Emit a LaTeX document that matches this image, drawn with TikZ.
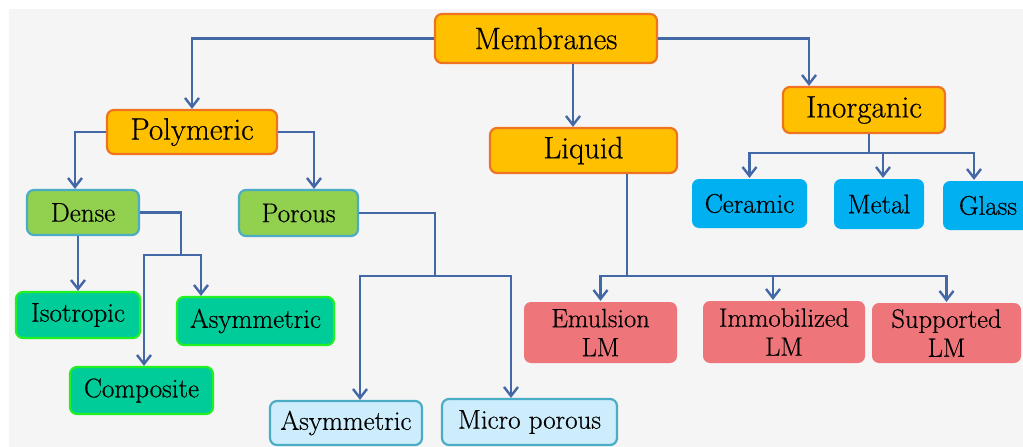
\documentclass[tikz,border=0pt]{standalone}
\usepackage{fontspec}
\usetikzlibrary{arrows.meta,calc}
\newfontfamily\lblfont{Latin Modern Roman}[FakeBold=0.5]
\definecolor{bgcol}{HTML}{F5F5F5}
\definecolor{linkcol}{HTML}{4467A6}
\definecolor{orfill}{HTML}{FFC000}
\definecolor{ordraw}{HTML}{EE7422}
\definecolor{grfill}{HTML}{92D050}
\definecolor{bldraw}{HTML}{4BACC6}
\definecolor{tlfill}{HTML}{00CC99}
\definecolor{tldraw}{HTML}{22F022}
\definecolor{skyfill}{HTML}{00B0F0}
\definecolor{pkfill}{HTML}{EE757A}
\definecolor{ltfill}{HTML}{CDEDFC}
\tikzset{
  x=1pt, y=-1pt,
  box/.style={rounded corners=7pt, align=center, inner sep=0pt, line width=2.2pt},
  top/.style={box, fill=orfill, draw=ordraw, font=\lblfont\fontsize{31}{35}\selectfont},
  mid/.style={box, fill=grfill, draw=bldraw, font=\lblfont\fontsize{27}{31}\selectfont},
  leaf/.style={box, fill=tlfill, draw=tldraw, font=\lblfont\fontsize{27}{31}\selectfont},
  inorg/.style={box, fill=skyfill, font=\lblfont\fontsize{27}{31}\selectfont},
  lm/.style={box, fill=pkfill, font=\lblfont\fontsize{26.5}{29}\selectfont},
  pore/.style={box, fill=ltfill, draw=bldraw, font=\lblfont\fontsize{27}{31}\selectfont},
  link/.style={draw=linkcol, line width=2.6pt},
  arr/.style={link, -{Straight Barb[length=9pt,width=14pt,line width=2.4pt]}},
}
\begin{document}
\begin{tikzpicture}
% canvas
\useasboundingbox (0,0) rectangle (1023,447);
\fill[white] (0,0) rectangle (1023,447);
\fill[bgcol] (9,9) rectangle (1023,447);

% level 0 and 1
\node[top, minimum width=222, minimum height=49] (mem) at (546,38.5) {Membranes};
\node[top, minimum width=170, minimum height=44] (poly) at (192,132) {Polymeric};
\node[top, minimum width=187, minimum height=45] (liq) at (583.5,150.5) {Liquid};
\node[top, minimum width=162, minimum height=46] (ino) at (864,110) {Inorganic};

% polymeric branch
\node[mid, minimum width=112, minimum height=45] (dense) at (83,212.5) {Dense};
\node[mid, minimum width=119, minimum height=46] (por) at (298.5,213) {Porous};
\node[leaf, minimum width=124, minimum height=46] (iso) at (78,315) {Isotropic};
\node[leaf, minimum width=157, minimum height=48] (asd) at (255.5,321) {Asymmetric};
\node[leaf, minimum width=143, minimum height=47] (comp) at (141.5,390.5) {Composite};
\node[pore, minimum width=152, minimum height=44] (asp) at (346,423) {Asymmetric};
\node[pore, minimum width=175, minimum height=46] (mic) at (529.5,422) {Micro porous};

% inorganic branch
\node[inorg, minimum width=115, minimum height=49] (cer) at (749.5,203.5) {Ceramic};
\node[inorg, minimum width=90, minimum height=50] (met) at (879,204) {Metal};
\node[inorg, minimum width=90, minimum height=49] (gla) at (988,205.5) {Glass};

% liquid branch
\node[lm, minimum width=153, minimum height=61] (emu) at (600.5,332.5) {Emulsion\\LM};
\node[lm, minimum width=162, minimum height=62] (imm) at (784,332) {Immobilized\\LM};
\node[lm, minimum width=149, minimum height=60] (sup) at (946.5,333) {Supported\\LM};

% junction points
\coordinate (dj) at (181,255);
\coordinate (pj) at (435,276);
\coordinate (lj) at (627,276);
\coordinate (ij) at (869,153);

% connectors
\draw[arr] (mem.west) -| (poly.north);
\draw[arr] (mem.east) -| ([xshift=-55]ino.north);
\draw[arr] ([xshift=-10.5]liq.north |- mem.south) -- ([xshift=-10.5]liq.north);

\draw[arr] (poly.west) -| ([xshift=-8]dense.north);
\draw[arr] (poly.east) -| ([xshift=15.5]por.north);

\draw[arr] (iso.north |- dense.south) -- (iso.north);
\draw[link] (dense.east) -| (dj);
\draw[arr] (dj) -| ([xshift=2.5]comp.north);
\draw[arr] (dj) -| ([xshift=-54.5]asd.north);

\draw[link] (por.east) -| (pj);
\draw[arr] (pj) -| ([xshift=14]asp.north);
\draw[arr] (pj) -| ([xshift=-18.5]mic.north);

\draw[link] (lj |- liq.south) -- (lj);
\draw[arr] (lj) -| (emu.north);
\draw[arr] (lj) -| ([xshift=-11]imm.north);
\draw[arr] (lj) -| (sup.north);

\draw[link] (ij |- ino.south) -- (ij);
\draw[arr] (ij) -| (cer.north);
\draw[arr] (ij) -| ([xshift=4]met.north);
\draw[arr] (ij) -| ([xshift=-14]gla.north);
\end{tikzpicture}
\end{document}
